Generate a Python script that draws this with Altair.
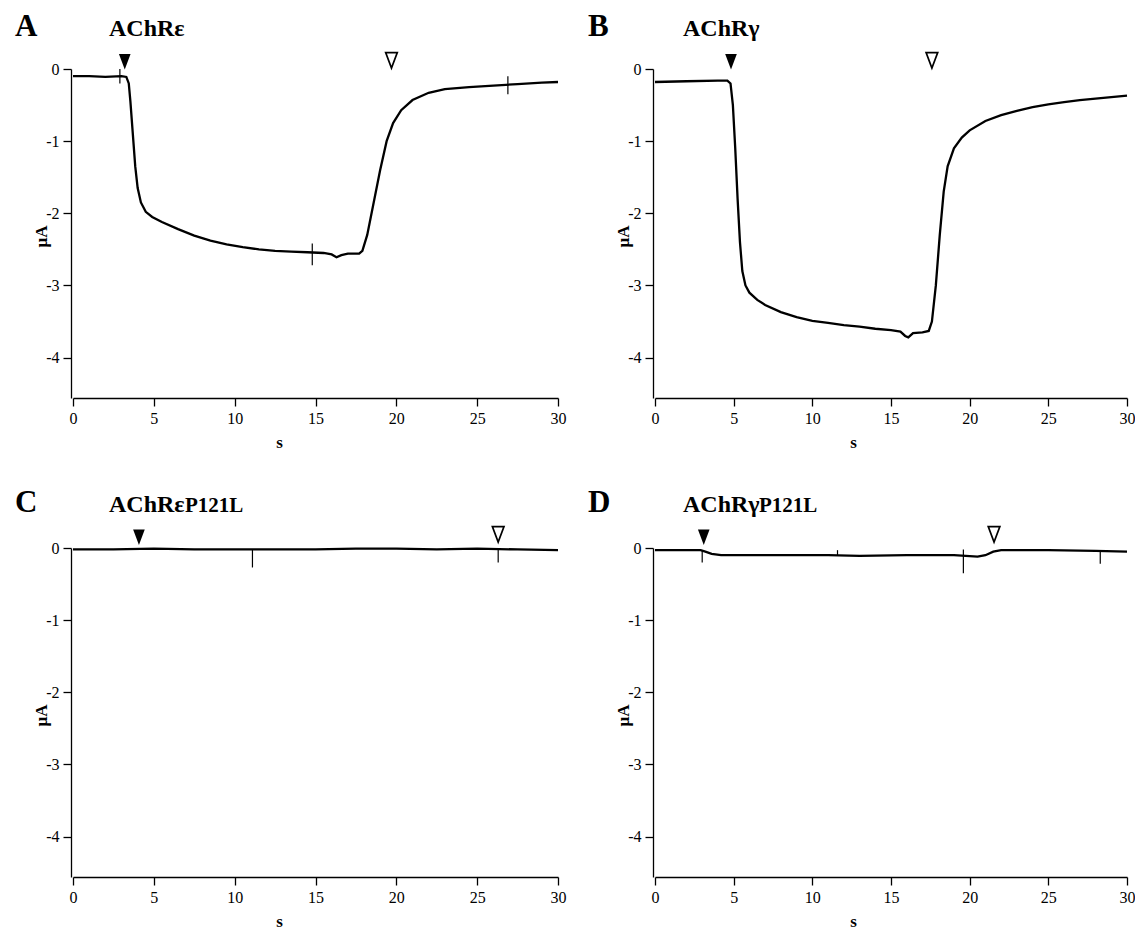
import altair as alt
import pandas as pd

FONT = "Liberation Serif"

# ---------------- data ----------------
# Panel A: AChR epsilon
a_t = [0, 1, 2, 3, 3.3, 3.45, 3.55, 3.7, 3.85, 4.0, 4.2, 4.5, 4.9, 5.5, 6.5, 7.5, 8.5, 9.5,
       10.5, 11.5, 12.5, 13.5, 14.5, 15.5, 16.0, 16.3, 16.6, 17.0, 17.7, 17.9, 18.2, 18.6,
       19.0, 19.4, 19.8, 20.3, 21.0, 22.0, 23.0, 24.5, 26.0, 27.5, 29.0, 30.0]
a_v = [-0.10, -0.10, -0.11, -0.10, -0.11, -0.20, -0.45, -0.90, -1.35, -1.65, -1.85, -1.98,
       -2.05, -2.12, -2.22, -2.31, -2.38, -2.43, -2.47, -2.50, -2.52, -2.53, -2.54, -2.55,
       -2.57, -2.61, -2.58, -2.56, -2.56, -2.52, -2.30, -1.85, -1.40, -1.00, -0.75, -0.57,
       -0.43, -0.33, -0.28, -0.25, -0.23, -0.21, -0.19, -0.18]
a_spk_t = [2.9, 14.8, 26.9]
a_spk_hi = [0.0, -2.42, -0.10]
a_spk_lo = [-0.20, -2.72, -0.35]

# Panel B: AChR gamma
b_t = [0, 2, 4, 4.6, 4.8, 4.95, 5.1, 5.25, 5.4, 5.55, 5.75, 6.0, 6.5, 7.0, 8.0, 9.0, 10.0,
       11.0, 12.0, 13.0, 14.0, 15.0, 15.6, 15.9, 16.1, 16.4, 17.0, 17.4, 17.6, 17.85, 18.1,
       18.35, 18.6, 19.0, 19.5, 20.0, 21.0, 22.0, 23.0, 24.0, 25.0, 26.0, 27.0, 28.0, 29.0, 30.0]
b_v = [-0.18, -0.17, -0.16, -0.16, -0.20, -0.50, -1.10, -1.80, -2.40, -2.80, -3.00, -3.10,
       -3.20, -3.27, -3.37, -3.44, -3.49, -3.52, -3.55, -3.57, -3.60, -3.62, -3.64, -3.70,
       -3.72, -3.66, -3.65, -3.63, -3.50, -3.00, -2.30, -1.70, -1.35, -1.10, -0.95, -0.85,
       -0.72, -0.64, -0.58, -0.53, -0.49, -0.46, -0.43, -0.41, -0.39, -0.37]
b_spk_t = []
b_spk_hi = []
b_spk_lo = []

# Panel C: AChR epsilon P121L
c_t = [0, 2.5, 5, 7.5, 10, 12.5, 15, 17.5, 20, 22.5, 25, 27.5, 30]
c_v = [-0.02, -0.02, -0.01, -0.02, -0.02, -0.02, -0.02, -0.01, -0.01, -0.02, -0.01, -0.02, -0.03]
c_spk_t = [11.1, 26.3]
c_spk_hi = [-0.02, -0.01]
c_spk_lo = [-0.27, -0.20]

# Panel D: AChR gamma P121L
d_t = [0, 2.9, 3.2, 3.6, 4.2, 5, 8, 11, 13, 16, 19, 20.5, 21.0, 21.5, 22, 25, 28, 30]
d_v = [-0.03, -0.03, -0.05, -0.08, -0.10, -0.10, -0.10, -0.10, -0.11, -0.10, -0.10, -0.12,
       -0.10, -0.05, -0.03, -0.03, -0.04, -0.05]
d_spk_t = [3.0, 11.6, 19.6, 28.3]
d_spk_hi = [-0.03, -0.03, -0.02, -0.04]
d_spk_lo = [-0.20, -0.10, -0.35, -0.22]

# arrow heads: (filled t, filled y, open t, open y)
tri = {
    "A": (3.2, 0.10, 19.7, 0.12),
    "B": (4.83, 0.10, 17.6, 0.12),
    "C": (4.08, 0.15, 26.3, 0.19),
    "D": (3.1, 0.15, 21.55, 0.19),
}

x_ticks = [0, 5, 10, 15, 20, 25, 30]
y_ticks = [0, -1, -2, -3, -4]
Y_DOMAIN = [-4.56, 0]

TRI_PATH = "M-0.75,-1L0.75,-1L0,1Z"


def panel(letter, name, suffix, t, v, st, shi, slo, tr, width, letter_x, name_x, s_x, title_y):
    df = pd.DataFrame({"t": t, "v": v})
    xenc = alt.X("t:Q", scale=alt.Scale(domain=[0, 30], nice=False, zero=False),
                 axis=alt.Axis(values=x_ticks, title="s", titleX=s_x, titleY=44,
                               titleBaseline="middle", titleAlign="center"))
    yenc = alt.Y("v:Q", scale=alt.Scale(domain=Y_DOMAIN, nice=False, zero=False),
                 axis=alt.Axis(values=y_ticks, title="μA", offset=2,
                               titleX=-30, titleY=167, titleAngle=-90,
                               titleAlign="center", titleBaseline="middle",
                               labelExpr="datum.value < 0 ? '-' + (-datum.value) : '' + datum.value"))
    line = alt.Chart(df).mark_line(color="black", strokeWidth=2.3).encode(x=xenc, y=yenc)
    layers = [line]
    if st:
        sdf = pd.DataFrame({"t": st, "hi": shi, "lo": slo})
        layers.append(alt.Chart(sdf).mark_rule(color="black", strokeWidth=1.2).encode(
            x="t:Q", y="hi:Q", y2="lo:Q"))
    ft, fy, ot, oy = tr
    fdf = pd.DataFrame({"t": [ft], "v": [fy]})
    odf = pd.DataFrame({"t": [ot], "v": [oy]})
    layers.append(alt.Chart(fdf).mark_point(shape=TRI_PATH, size=240, filled=True,
                                            color="black", opacity=1).encode(x="t:Q", y="v:Q"))
    layers.append(alt.Chart(odf).mark_point(shape=TRI_PATH, size=240, filled=False,
                                            stroke="black", strokeWidth=1.7, fill="white",
                                            opacity=1).encode(x="t:Q", y="v:Q"))
    one = pd.DataFrame({"k": [0]})
    layers.append(alt.Chart(one).mark_text(font=FONT, fontSize=31, fontWeight="bold",
                                           align="left", baseline="alphabetic", color="black").encode(
        x=alt.value(letter_x), y=alt.value(title_y), text=alt.value(letter)))
    layers.append(alt.Chart(one).mark_text(font=FONT, fontSize=24, fontWeight="bold",
                                           align="left", baseline="alphabetic", color="black").encode(
        x=alt.value(name_x), y=alt.value(title_y), text=alt.value(name)))
    if suffix:
        layers.append(alt.Chart(one).mark_text(font=FONT, fontSize=21, fontWeight="bold",
                                               align="left", baseline="alphabetic", color="black").encode(
            x=alt.value(name_x + 76), y=alt.value(title_y), text=alt.value(suffix)))
    return alt.layer(*layers).properties(width=width, height=329)


pA = panel("A", "AChRε", "", a_t, a_v, a_spk_t, a_spk_hi, a_spk_lo, tri["A"], 485, -58, 36, 206, -33)
pB = panel("B", "AChRγ", "", b_t, b_v, b_spk_t, b_spk_hi, b_spk_lo, tri["B"], 472, -67, 28, 198, -33)
pC = panel("C", "AChRε", "P121L", c_t, c_v, c_spk_t, c_spk_hi, c_spk_lo, tri["C"], 485, -58, 36, 206, -36)
pD = panel("D", "AChRγ", "P121L", d_t, d_v, d_spk_t, d_spk_hi, d_spk_lo, tri["D"], 472, -67, 28, 198, -36)

chart = alt.vconcat(
    alt.hconcat(pA, pB, spacing=22),
    alt.hconcat(pC, pD, spacing=22),
    spacing=37,
).properties(padding={"left": 7, "top": 3, "right": 0, "bottom": 0}).configure_view(
    stroke=None
).configure_axis(
    labelFont=FONT, labelFontSize=16, labelColor="black",
    titleFont=FONT, titleFontSize=17, titleFontWeight="bold", titleColor="black",
    domainColor="black", tickColor="black", domainWidth=1.3, tickWidth=1.3,
    grid=False, tickSize=8, labelPadding=4, labelFlush=False, labelOverlap=False,
).configure_concat(spacing=22)

chart.save("out.html", embed_options={"renderer": "svg", "actions": False})
